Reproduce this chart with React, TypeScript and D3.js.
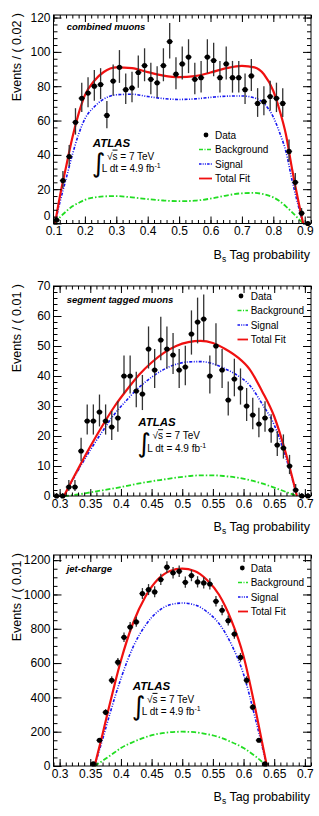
import React, { useEffect, useRef } from 'react';
import * as d3 from 'd3';

// ---- combined muons (bins of 0.02 starting at 0.10) ----
const cmBinLo = 0.1;
const cmBinWidth = 0.02;
const cmCounts = [2, 25, 39, 59, 73, 76, 80, 81, 63, 83, 91, 78, 79, 88, 92, 84, 82, 92, 106, 87,
  93, 97, 84, 85, 97, 95, 85, 93, 85, 85, 78, 86, 70, 71, 74, 73, 70, 42, 24, 6, 0];
const cmFitX = [0.105, 0.12, 0.14, 0.16, 0.18, 0.20, 0.23, 0.26, 0.30, 0.35, 0.40, 0.45, 0.50,
  0.55, 0.60, 0.65, 0.70, 0.74, 0.77, 0.80, 0.82, 0.84, 0.86, 0.88, 0.895];
const cmBkg = [0, 3.5, 7, 10, 12, 13.8, 15.2, 15.8, 16, 15.2, 14.2, 13.4, 13, 13.3, 14.5, 16.3,
  17.6, 17.8, 17, 15.2, 13, 10, 6.5, 2.8, 0];
const cmSig = [0, 12, 26, 40, 52, 61, 68, 72.5, 75, 75.3, 74, 72.8, 72.3, 72.6, 73.5, 74.2, 74.3,
  73.2, 70, 62, 53, 42, 25, 10, 0];
const cmTot = [0, 15.5, 33, 50, 64, 74.8, 83.2, 88.3, 91, 90.5, 88.2, 86.2, 85.3, 85.9, 88, 90.5,
  91.9, 91, 87, 77.2, 66, 52, 31.5, 12.8, 0];

// ---- segment tagged muons (bins of 0.01 starting at 0.29) ----
const stBinLo = 0.29;
const stBinWidth = 0.01;
const stCounts = [0, 0, 3, 3, 15, 25, 25, 28, 25, 23, 26, 40, 40, 35, 34, 49, 42, 52, 49, 47, 42,
  43, 54, 58, 59, 40, 50, 42, 32, 39, 36, 30, 27, 24, 26, 22, 17, 16, 10, 2, 0, 0];
const stFitX = [0.307, 0.33, 0.35, 0.37, 0.39, 0.41, 0.43, 0.45, 0.47, 0.49, 0.51, 0.53, 0.55,
  0.57, 0.59, 0.61, 0.63, 0.65, 0.67, 0.687];
const stBkg = [0, 0.5, 1.2, 1.9, 2.6, 3.4, 4.2, 4.9, 5.5, 6.1, 6.6, 6.9, 6.9, 6.6, 6.1, 5.3, 4.2,
  2.8, 1.3, 0];
const stSig = [0, 8.5, 15.3, 21.6, 27.4, 32.1, 36.3, 39.6, 42.2, 43.9, 44.7, 44.8, 44.1, 42.4,
  40.2, 36.9, 30.8, 23.7, 12.2, 0];
const stTot = [0, 9, 16.5, 23.5, 30, 35.5, 40.5, 44.5, 47.7, 50, 51.3, 51.7, 51, 49, 46.3, 42.2,
  35, 26.5, 13.5, 0];

// ---- jet-charge (bins of 0.01 starting at 0.35) ----
const jcBinLo = 0.35;
const jcBinWidth = 0.01;
const jcCounts = [12, 150, 313, 500, 605, 750, 810, 840, 1005, 1028, 1015, 1087, 1159, 1126, 1135,
  1071, 1110, 1073, 1067, 1061, 960, 908, 847, 769, 633, 500, 343, 150, 12];
const jcFitX = [0.357, 0.37, 0.38, 0.39, 0.40, 0.42, 0.44, 0.46, 0.48, 0.50, 0.52, 0.54, 0.56,
  0.58, 0.60, 0.62, 0.638];
const jcSig = [0, 155, 280, 400, 510, 695, 820, 900, 940, 950, 940, 900, 830, 710, 535, 265, 0];
const jcBkg = [0, 30, 55, 80, 105, 140, 168, 187, 197, 200, 197, 186, 168, 140, 105, 55, 0];
const jcTot = [0, 185, 335, 480, 615, 835, 988, 1087, 1137, 1150, 1137, 1086, 998, 850, 640, 320, 0];

const legendLabels = ['Data', 'Background', 'Signal', 'Total Fit'];

const W = 319;
const H = 816;
const FRAME_L = 53.5;
const FRAME_R = 311;
const FONT = "'Liberation Sans', Arial, Helvetica, sans-serif";
const RED = '#f01010';
const BLUE = '#1515f0';
const GREEN = '#22dd22';

const panels = [
  {
    top: 15, bottom: 223.5, xDomain: [0.1, 0.92], yDomain: [0, 121.5],
    xMajor: 0.1, xMinor: 0.02, yMajor: 20, yMinor: 4,
    binLo: cmBinLo, binWidth: cmBinWidth, counts: cmCounts,
    fitX: cmFitX, bkg: cmBkg, sig: cmSig, tot: cmTot,
    yTitle: 'Events / ( 0.02 )', tag: 'combined muons',
    legend: { x0: 199, x1: 212, mx: 206, tx: 215, y: 135, dy: 14.5 },
    atlas: { x: 92.7, y: 146.6 },
  },
  {
    top: 286, bottom: 496, xDomain: [0.29, 0.71], yDomain: [0, 70],
    xMajor: 0.05, xMinor: 0.01, yMajor: 10, yMinor: 2,
    binLo: stBinLo, binWidth: stBinWidth, counts: stCounts,
    fitX: stFitX, bkg: stBkg, sig: stSig, tot: stTot,
    yTitle: 'Events / ( 0.01 )', tag: 'segment tagged muons',
    legend: { x0: 237.5, x1: 248, mx: 241, tx: 250.7, y: 296, dy: 14.5 },
    atlas: { x: 138.3, y: 426.2 },
  },
  {
    top: 555, bottom: 766, xDomain: [0.29, 0.71], yDomain: [0, 1230],
    xMajor: 0.05, xMinor: 0.01, yMajor: 200, yMinor: 50,
    binLo: jcBinLo, binWidth: jcBinWidth, counts: jcCounts,
    fitX: jcFitX, bkg: jcBkg, sig: jcSig, tot: jcTot,
    yTitle: 'Events / ( 0.01 )', tag: 'jet-charge',
    legend: { x0: 238, x1: 248, mx: 242.3, tx: 250.7, y: 568, dy: 14.5 },
    atlas: { x: 132.7, y: 689.9 },
  },
];

// tick values that fall inside [lo, hi] on a fixed step
const stepTicks = (lo: number, hi: number, step: number) => {
  const a = Math.ceil(lo / step - 1e-6);
  const b = Math.floor(hi / step + 1e-6);
  return d3.range(a, b + 1).map(i => +(i * step).toFixed(6));
};

// asymmetric Poisson-style error bars
const errLo = (n: number) => (n === 0 ? 0 : n - (Math.sqrt(n + 0.25) - 0.5));
const errHi = (n: number) => n + Math.sqrt(n + 0.25) + 0.5;

function drawPanel(svg: any, p: any) {
  const x = d3.scaleLinear().domain(p.xDomain).range([FRAME_L, FRAME_R]);
  const y = d3.scaleLinear().domain(p.yDomain).range([p.bottom, p.top]);
  const g = svg.append('g');

  // fit curves
  const line = d3.line<[number, number]>()
    .x(d => x(d[0]))
    .y(d => y(d[1]))
    .curve(d3.curveMonotoneX);
  const pairs = (vals: number[]) => p.fitX.map((v: number, i: number) => [v, vals[i]] as [number, number]);

  g.append('path').attr('d', line(pairs(p.bkg)))
    .attr('fill', 'none').attr('stroke', GREEN).attr('stroke-width', 1.8)
    .attr('stroke-dasharray', '5,2,1.5,2');
  g.append('path').attr('d', line(pairs(p.sig)))
    .attr('fill', 'none').attr('stroke', BLUE).attr('stroke-width', 1.6)
    .attr('stroke-dasharray', '3,1.5,1,1.5,1,1.5');
  g.append('path').attr('d', line(pairs(p.tot)))
    .attr('fill', 'none').attr('stroke', RED).attr('stroke-width', 2.2);

  // data points with error bars
  const pts = p.counts.map((n: number, i: number) => ({ c: p.binLo + (i + 0.5) * p.binWidth, n }));
  const dg = g.append('g').attr('stroke', '#333').attr('stroke-width', 1.3);
  pts.forEach((d: any) => {
    dg.append('line')
      .attr('x1', x(d.c)).attr('x2', x(d.c))
      .attr('y1', y(errLo(d.n))).attr('y2', y(errHi(d.n)));
    dg.append('line')
      .attr('x1', x(d.c - p.binWidth / 2)).attr('x2', x(d.c + p.binWidth / 2))
      .attr('y1', y(d.n)).attr('y2', y(d.n));
  });
  g.append('g').selectAll('circle').data(pts).enter().append('circle')
    .attr('cx', (d: any) => x(d.c)).attr('cy', (d: any) => y(d.n))
    .attr('r', 2.6).attr('fill', '#000');

  // frame and ticks on all four sides
  g.append('rect')
    .attr('x', FRAME_L).attr('y', p.top)
    .attr('width', FRAME_R - FRAME_L).attr('height', p.bottom - p.top)
    .attr('fill', 'none').attr('stroke', '#000').attr('stroke-width', 1);

  const xMaj = stepTicks(p.xDomain[0], p.xDomain[1], p.xMajor);
  const xMin = stepTicks(p.xDomain[0], p.xDomain[1], p.xMinor);
  const yMaj = stepTicks(p.yDomain[0], p.yDomain[1], p.yMajor);
  const yMin = stepTicks(p.yDomain[0], p.yDomain[1], p.yMinor);
  const none = () => '';

  const axes = [
    [d3.axisBottom(x).tickValues(xMaj).tickSize(-7).tickPadding(3).tickFormat((d: any) => String(+(+d).toFixed(2))), `translate(0,${p.bottom})`],
    [d3.axisBottom(x).tickValues(xMin).tickSize(-3.5).tickFormat(none), `translate(0,${p.bottom})`],
    [d3.axisTop(x).tickValues(xMaj).tickSize(-7).tickFormat(none), `translate(0,${p.top})`],
    [d3.axisTop(x).tickValues(xMin).tickSize(-3.5).tickFormat(none), `translate(0,${p.top})`],
    [d3.axisLeft(y).tickValues(yMaj).tickSize(-8).tickPadding(3).tickFormat(d3.format('d')), `translate(${FRAME_L},0)`],
    [d3.axisLeft(y).tickValues(yMin).tickSize(-4).tickFormat(none), `translate(${FRAME_L},0)`],
    [d3.axisRight(y).tickValues(yMaj).tickSize(-8).tickFormat(none), `translate(${FRAME_R},0)`],
    [d3.axisRight(y).tickValues(yMin).tickSize(-4).tickFormat(none), `translate(${FRAME_R},0)`],
  ];
  const axisGroups = axes.map(([ax, tr]: any) => {
    const a = g.append('g').attr('transform', tr).call(ax);
    a.select('.domain').remove();
    a.selectAll('line').attr('stroke', '#000');
    a.selectAll('text').attr('font-family', FONT).attr('font-size', 12).attr('fill', '#000');
    return a;
  });
  // when the first x label sits right at the corner, lift the y "0" clear of it
  if (Math.abs(xMaj[0] - p.xDomain[0]) < 1e-6) {
    axisGroups[4].selectAll('.tick text')
      .filter((d: any) => d === 0)
      .attr('dy', '-0.3em');
  }

  // axis titles
  g.append('text')
    .attr('transform', `translate(21,${p.top - 2}) rotate(-90)`)
    .attr('text-anchor', 'end')
    .attr('font-family', FONT).attr('font-size', 12.5)
    .text(p.yTitle);

  const xt = g.append('text')
    .attr('x', FRAME_R - 1).attr('y', p.bottom + 35)
    .attr('text-anchor', 'end')
    .attr('font-family', FONT).attr('font-size', 12.5)
    .style('white-space', 'pre');
  xt.append('tspan').text('B');
  xt.append('tspan').attr('dy', 3).attr('font-size', 8.5).text('s');
  xt.append('tspan').attr('dy', -3).text(' Tag probability');

  // category tag
  g.append('text')
    .attr('x', 66.7).attr('y', p.top + (p.tag === 'combined muons' ? 15 : 16.5))
    .attr('font-family', FONT).attr('font-size', 9.5)
    .attr('font-weight', 'bold').attr('font-style', 'italic')
    .text(p.tag);

  // legend
  const L = p.legend;
  const rowY = (i: number) => L.y + i * L.dy;
  g.append('circle').attr('cx', L.mx).attr('cy', rowY(0)).attr('r', 2.4).attr('fill', '#000');
  const styles = [
    { c: GREEN, w: 1.6, dash: '4,1.5,1,1.5' },
    { c: BLUE, w: 1.4, dash: '2.5,1.2,1,1.2,1,1.2' },
    { c: RED, w: 1.8, dash: null },
  ];
  styles.forEach((s, i) => {
    g.append('line')
      .attr('x1', L.x0).attr('x2', L.x1)
      .attr('y1', rowY(i + 1)).attr('y2', rowY(i + 1))
      .attr('stroke', s.c).attr('stroke-width', s.w)
      .attr('stroke-dasharray', s.dash);
  });
  legendLabels.forEach((t, i) => {
    g.append('text')
      .attr('x', L.tx).attr('y', rowY(i) + 3.6)
      .attr('font-family', FONT).attr('font-size', 10)
      .text(t);
  });

  // ATLAS label block
  const A = p.atlas;
  g.append('text')
    .attr('x', A.x).attr('y', A.y)
    .attr('font-family', FONT).attr('font-size', 11.5)
    .attr('font-weight', 'bold').attr('font-style', 'italic')
    .text('ATLAS');
  const rs = g.append('text')
    .attr('x', A.x + 14.3).attr('y', A.y + 13)
    .attr('font-family', FONT).attr('font-size', 10)
    .style('white-space', 'pre');
  rs.append('tspan').text('\u221A');
  rs.append('tspan').style('text-decoration', 'overline').text('s');
  rs.append('tspan').text(' = 7 TeV');
  const lum = g.append('text')
    .attr('x', A.x + 9).attr('y', A.y + 25.5)
    .attr('font-family', FONT).attr('font-size', 10)
    .style('white-space', 'pre');
  lum.append('tspan').text('L dt = 4.9 fb');
  lum.append('tspan').attr('dy', -4).attr('font-size', 7).text('-1');
  g.append('text')
    .attr('x', A.x - 1).attr('y', A.y + 25.5)
    .attr('font-family', "'DejaVu Sans', sans-serif").attr('font-size', 26)
    .attr('font-weight', 'normal')
    .text('\u222B');
}

export default function App() {
  const ref = useRef<SVGSVGElement>(null);

  useEffect(() => {
    if (!ref.current) return;
    const svg = d3.select(ref.current);
    svg.selectAll('*').remove();
    panels.forEach(p => drawPanel(svg, p));
  }, []);

  return (
    <svg
      ref={ref}
      width={W}
      height={H}
      style={{ position: 'absolute', left: 0, top: 0, background: '#fff' }}
    />
  );
}
